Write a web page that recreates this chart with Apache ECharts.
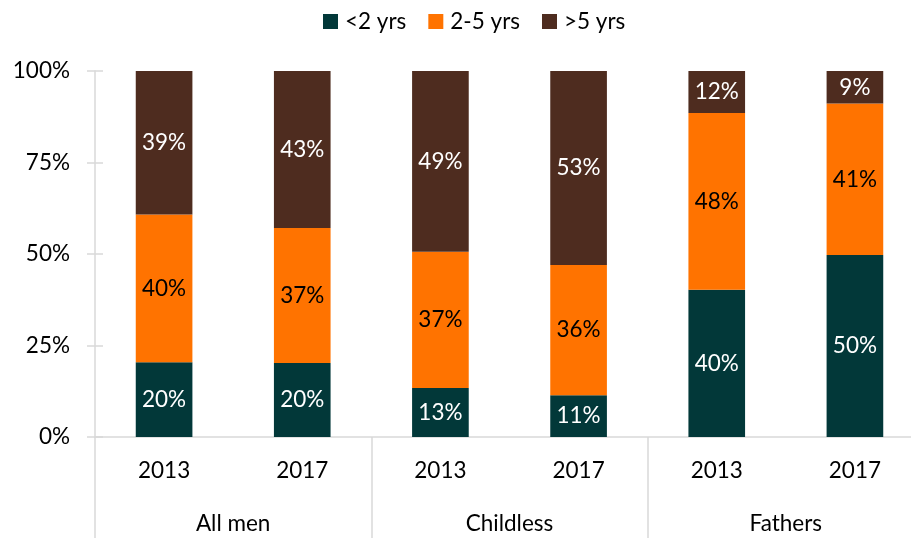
<!DOCTYPE html>
<html>
<head>
<meta charset="utf-8">
<script src="https://cdn.jsdelivr.net/npm/echarts@6/dist/echarts.min.js"></script>
<style>
  html, body { margin: 0; padding: 0; background: #fff; overflow: hidden; }
  #chart { width: 924px; height: 538px; }
</style>
</head>
<body>
<div id="chart"></div>
<script>
const years = ["2013", "2017", "2013", "2017", "2013", "2017"];
const groups = ["All men", "Childless", "Fathers"];
const under2 = [20.4, 20.2, 13.4, 11.4, 40.2, 49.7];
const twoToFive = [40.4, 36.9, 37.2, 35.6, 48.3, 41.4];
const over5 = [39.2, 42.9, 49.4, 53.0, 11.5, 8.9];
const yTicks = [0, 25, 50, 75, 100];

const font = "Lato, 'Open Sans', sans-serif";
const fs = 22.5;
const gridLine = "#d9d9d9";
// the original plot runs a little past the right edge of the picture
const chart = echarts.init(document.getElementById("chart"));

function bar(name, data, color, textColor) {
  return {
    name,
    type: "bar",
    stack: "total",
    data,
    barCategoryGap: "59%",
    itemStyle: { color },
    label: {
      show: true,
      position: "inside",
      color: textColor,
      fontFamily: font,
      fontSize: fs,
      formatter: (p) => Math.round(p.value) + "%",
    },
  };
}

chart.setOption({
  animation: false,
  textStyle: { fontFamily: font },
  legend: {
    top: 5,
    left: 318,
    itemWidth: 15,
    itemHeight: 15,
    itemGap: 22,
    icon: "rect",
    textStyle: { fontSize: fs, color: "#000", fontFamily: font, padding: [0, 0, 0, 2] },
  },
  grid: { left: 95, right: 0, top: 71, bottom: 101 },
  xAxis: [
    {
      type: "category",
      data: years,
      axisLine: { lineStyle: { color: gridLine, width: 1.5 } },
      axisTick: { show: false },
      axisLabel: { color: "#000", fontSize: fs, margin: 22, fontFamily: font },
    },
    {
      type: "category",
      data: groups,
      position: "bottom",
      axisLine: { show: false },
      axisTick: { show: true, length: 110, lineStyle: { color: gridLine, width: 1.5 } },
      axisLabel: { color: "#000", fontSize: fs, margin: 75, fontFamily: font },
    },
  ],
  yAxis: [
    {
      type: "value",
      min: yTicks[0],
      max: yTicks[yTicks.length - 1],
      interval: 25,
      axisLine: { show: true, lineStyle: { color: gridLine, width: 1.5 } },
      axisTick: { show: true, length: 8, lineStyle: { color: gridLine, width: 1.5 } },
      splitLine: { show: false },
      axisLabel: { color: "#000", fontSize: fs, margin: 25, fontFamily: font, formatter: "{value}%" },
    },
    {
      type: "value",
      position: "left",
      min: yTicks[0],
      max: yTicks[yTicks.length - 1],
      interval: 25,
      axisLine: { show: false },
      axisTick: { show: true, inside: true, length: 8, lineStyle: { color: gridLine, width: 1.5 } },
      splitLine: { show: false },
      axisLabel: { show: false },
    },
  ],
  series: [
    bar("<2 yrs", under2, "#023839", "#fff"),
    bar("2-5 yrs", twoToFive, "#ff7300", "#000"),
    bar(">5 yrs", over5, "#4e2c1f", "#fff"),
  ],
});
</script>
</body>
</html>
